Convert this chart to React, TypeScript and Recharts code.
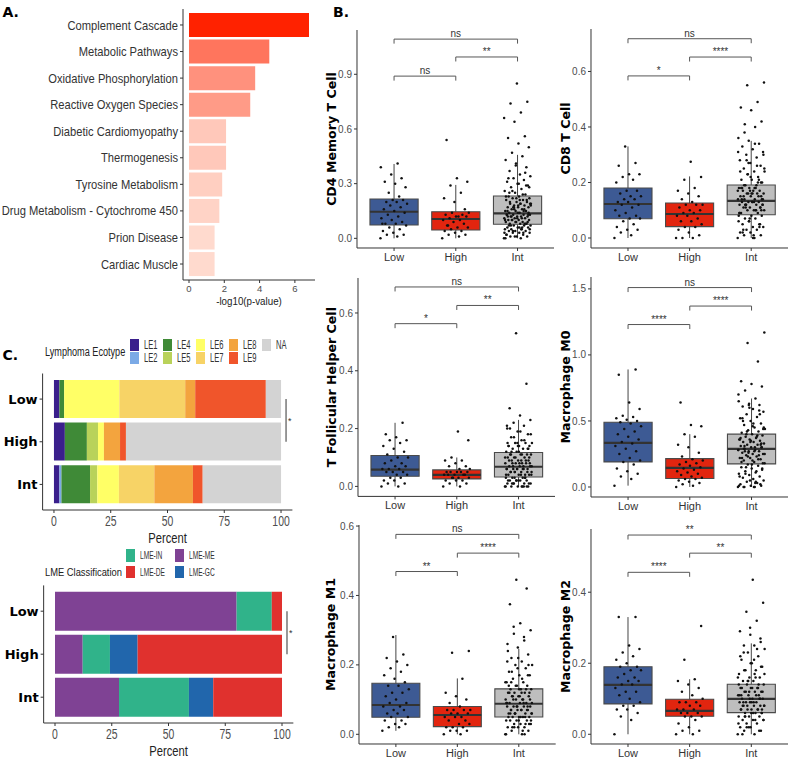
import React from "react";
import {
  BarChart,
  Bar,
  Cell,
  ComposedChart,
  Scatter,
  XAxis,
  YAxis,
  ReferenceArea,
  ReferenceLine,
} from "recharts";

const SANS = "'Liberation Sans', Arial, sans-serif";
const HEAVY = "'DejaVu Sans', Verdana, sans-serif";

// ---------- Panel A: pathway enrichment ----------
const pathways = [
  "Complement Cascade",
  "Metabolic Pathways",
  "Oxidative Phosphorylation",
  "Reactive Oxygen Species",
  "Diabetic Cardiomyopathy",
  "Thermogenesis",
  "Tyrosine Metabolism",
  "Drug Metabolism - Cytochrome 450",
  "Prion Disease",
  "Cardiac Muscle",
];
const pathwayScores = [6.8, 4.55, 3.75, 3.47, 2.1, 2.1, 1.88, 1.72, 1.45, 1.45];
const pathwayTicks = [0, 2, 4, 6];

// ---------- Panel C: composition ----------
const groups = ["Low", "High", "Int"];

const ecotypes = ["LE1", "LE2", "LE4", "LE5", "LE6", "LE7", "LE8", "LE9", "NA"];
const ecotypeLow = [2.4, 0, 2.1, 0, 24.3, 29, 4.4, 31.1, 6.7];
const ecotypeHigh = [4.8, 0, 9.7, 4.9, 2.6, 0, 7.1, 2.6, 68.3];
const ecotypeInt = [2.4, 0.9, 12.6, 3.2, 9.5, 15.6, 17, 4.3, 34.5];

const lmeClasses = ["LME-ME", "LME-IN", "LME-GC", "LME-DE"];
const lmeLow = [80, 15.5, 0, 4.5];
const lmeHigh = [12.2, 12, 12.2, 63.6];
const lmeInt = [28.2, 30.8, 10.7, 30.3];
const lmeLegendOrder = ["LME-IN", "LME-DE", "LME-ME", "LME-GC"];

const percentTicks = [0, 25, 50, 75, 100];

// ---------- Panel B: cell fractions ----------
type Stat = { lo: number; q1: number; med: number; q3: number; hi: number };
type Bracket = { from: number; to: number; y: number; label: string };

const cd4Stats: Stat[] = [
  { lo: 0, q1: 0.073, med: 0.146, q3: 0.216, hi: 0.408 },
  { lo: 0, q1: 0.046, med: 0.106, q3: 0.146, hi: 0.293 },
  { lo: 0, q1: 0.077, med: 0.137, q3: 0.232, hi: 0.458 },
];
const cd4Low = [0.0, 0.01, 0.02, 0.02, 0.03, 0.04, 0.05, 0.06, 0.07, 0.08, 0.08, 0.09, 0.1, 0.11, 0.12, 0.13, 0.14, 0.15, 0.16, 0.17, 0.18, 0.19, 0.2, 0.2, 0.21, 0.21, 0.08, 0.23, 0.25, 0.28, 0.3, 0.31, 0.33, 0.35, 0.39, 0.41];
const cd4High = [0.0, 0.01, 0.02, 0.02, 0.03, 0.04, 0.04, 0.05, 0.06, 0.06, 0.07, 0.08, 0.09, 0.1, 0.1, 0.11, 0.12, 0.12, 0.13, 0.13, 0.14, 0.14, 0.12, 0.07, 0.16, 0.2, 0.22, 0.25, 0.29, 0.31, 0.33, 0.54];
const cd4Int = [0.0, 0.0, 0.01, 0.01, 0.01, 0.02, 0.02, 0.03, 0.03, 0.03, 0.04, 0.04, 0.04, 0.05, 0.05, 0.05, 0.06, 0.06, 0.06, 0.07, 0.07, 0.07, 0.08, 0.08, 0.08, 0.09, 0.09, 0.09, 0.1, 0.1, 0.1, 0.1, 0.11, 0.11, 0.11, 0.12, 0.12, 0.12, 0.12, 0.13, 0.13, 0.13, 0.13, 0.14, 0.14, 0.15, 0.15, 0.15, 0.16, 0.16, 0.17, 0.17, 0.17, 0.18, 0.18, 0.19, 0.19, 0.19, 0.2, 0.2, 0.21, 0.21, 0.22, 0.22, 0.23, 0.23, 0.24, 0.25, 0.26, 0.27, 0.28, 0.29, 0.3, 0.31, 0.32, 0.33, 0.34, 0.35, 0.37, 0.39, 0.41, 0.43, 0.45, 0.47, 0.5, 0.52, 0.55, 0.56, 0.64, 0.66, 0.69, 0.74, 0.75, 0.85,
  0.02, 0.03, 0.04, 0.05, 0.06, 0.07, 0.08, 0.09, 0.1, 0.11, 0.12, 0.13, 0.14, 0.15, 0.16, 0.17, 0.18, 0.19, 0.2, 0.21, 0.22, 0.23, 0.24, 0.26, 0.28, 0.3, 0.33, 0.36, 0.01, 0.03, 0.05, 0.07, 0.09, 0.11, 0.13, 0.15, 0.17, 0.19, 0.21, 0.25, 0.29, 0.4, 0.0, 0.06, 0.1, 0.14, 0.18, 0.12, 0.08, 0.16];
const cd4Brackets: Bracket[] = [
  { from: 1, to: 3, y: 1.093, label: "ns" },
  { from: 2, to: 3, y: 0.995, label: "**" },
  { from: 1, to: 2, y: 0.89, label: "ns" },
];

const cd8Stats: Stat[] = [
  { lo: 0, q1: 0.0695, med: 0.1225, q3: 0.18, hi: 0.33 },
  { lo: 0, q1: 0.041, med: 0.0865, q3: 0.126, hi: 0.222 },
  { lo: 0, q1: 0.084, med: 0.134, q3: 0.191, hi: 0.35 },
];
const cd8Low = [0.0, 0.01, 0.02, 0.03, 0.03, 0.04, 0.05, 0.06, 0.07, 0.07, 0.08, 0.08, 0.09, 0.1, 0.11, 0.12, 0.12, 0.13, 0.13, 0.14, 0.14, 0.15, 0.15, 0.16, 0.17, 0.17, 0.2, 0.21, 0.22, 0.23, 0.23, 0.26, 0.27, 0.33];
const cd8High = [0.0, 0.0, 0.0, 0.01, 0.02, 0.03, 0.04, 0.04, 0.05, 0.06, 0.06, 0.07, 0.08, 0.08, 0.09, 0.09, 0.1, 0.1, 0.11, 0.12, 0.12, 0.12, 0.13, 0.14, 0.15, 0.16, 0.17, 0.18, 0.21, 0.22, 0.275];
const cd8Int = [0.0, 0.0, 0.01, 0.01, 0.02, 0.02, 0.03, 0.03, 0.04, 0.04, 0.05, 0.05, 0.06, 0.06, 0.07, 0.07, 0.08, 0.08, 0.09, 0.09, 0.1, 0.1, 0.1, 0.11, 0.11, 0.11, 0.12, 0.12, 0.12, 0.12, 0.13, 0.13, 0.13, 0.13, 0.14, 0.14, 0.14, 0.15, 0.15, 0.15, 0.16, 0.16, 0.16, 0.17, 0.17, 0.17, 0.18, 0.18, 0.18, 0.19, 0.2, 0.21, 0.21, 0.22, 0.23, 0.24, 0.24, 0.25, 0.26, 0.27, 0.28, 0.29, 0.3, 0.31, 0.32, 0.33, 0.34, 0.35, 0.36, 0.4, 0.41, 0.42, 0.46, 0.47, 0.49, 0.55, 0.56,
  0.01, 0.03, 0.05, 0.07, 0.09, 0.1, 0.11, 0.12, 0.13, 0.14, 0.15, 0.16, 0.17, 0.18, 0.19, 0.2, 0.22, 0.24, 0.26, 0.28, 0.3, 0.0, 0.02, 0.04, 0.06, 0.08, 0.1, 0.12, 0.14, 0.16, 0.18, 0.2, 0.23, 0.25, 0.13, 0.15, 0.11, 0.17, 0.09, 0.19, 0.12, 0.14, 0.16, 0.18, 0.21, 0.27, 0.31, 0.34, 0.38, 0.1];
const cd8Brackets: Bracket[] = [
  { from: 1, to: 3, y: 0.718, label: "ns" },
  { from: 2, to: 3, y: 0.652, label: "****" },
  { from: 1, to: 2, y: 0.584, label: "*" },
];

const tfhStats: Stat[] = [
  { lo: 0, q1: 0.035, med: 0.058, q3: 0.107, hi: 0.22 },
  { lo: 0, q1: 0.026, med: 0.04, q3: 0.057, hi: 0.1 },
  { lo: 0, q1: 0.0325, med: 0.068, q3: 0.117, hi: 0.23 },
];
const tfhLow = [0.0, 0.0, 0.01, 0.01, 0.02, 0.02, 0.03, 0.03, 0.04, 0.04, 0.05, 0.05, 0.05, 0.06, 0.06, 0.06, 0.07, 0.07, 0.08, 0.08, 0.09, 0.1, 0.1, 0.11, 0.12, 0.13, 0.14, 0.15, 0.16, 0.16, 0.17, 0.18, 0.22];
const tfhHigh = [0.0, 0.0, 0.01, 0.01, 0.02, 0.02, 0.02, 0.03, 0.03, 0.03, 0.04, 0.04, 0.04, 0.04, 0.05, 0.05, 0.05, 0.05, 0.05, 0.04, 0.03, 0.06, 0.06, 0.07, 0.07, 0.08, 0.09, 0.09, 0.1, 0.16, 0.19];
const tfhInt = [0.0, 0.0, 0.0, 0.0, 0.0, 0.01, 0.01, 0.01, 0.01, 0.02, 0.02, 0.02, 0.02, 0.03, 0.03, 0.03, 0.04, 0.04, 0.04, 0.04, 0.05, 0.05, 0.05, 0.05, 0.06, 0.06, 0.06, 0.06, 0.06, 0.07, 0.07, 0.07, 0.08, 0.08, 0.08, 0.08, 0.09, 0.09, 0.09, 0.1, 0.1, 0.1, 0.11, 0.11, 0.11, 0.11, 0.12, 0.12, 0.13, 0.13, 0.14, 0.14, 0.14, 0.15, 0.15, 0.15, 0.16, 0.17, 0.18, 0.19, 0.2, 0.21, 0.22, 0.23, 0.245, 0.27, 0.355, 0.53,
  0.0, 0.0, 0.01, 0.01, 0.02, 0.02, 0.03, 0.03, 0.04, 0.04, 0.05, 0.05, 0.06, 0.06, 0.07, 0.07, 0.08, 0.08, 0.09, 0.09, 0.1, 0.1, 0.11, 0.12, 0.13, 0.14, 0.15, 0.16, 0.17, 0.18, 0.19, 0.2, 0.0, 0.02, 0.04, 0.06, 0.08, 0.1, 0.12, 0.14, 0.03, 0.05, 0.07, 0.09, 0.11, 0.13, 0.15, 0.21, 0.0, 0.01];
const tfhBrackets: Bracket[] = [
  { from: 1, to: 3, y: 0.69, label: "ns" },
  { from: 2, to: 3, y: 0.626, label: "**" },
  { from: 1, to: 2, y: 0.563, label: "*" },
];

const m0Stats: Stat[] = [
  { lo: 0.01, q1: 0.19, med: 0.334, q3: 0.49, hi: 0.89 },
  { lo: 0, q1: 0.064, med: 0.144, q3: 0.215, hi: 0.4 },
  { lo: 0, q1: 0.175, med: 0.288, q3: 0.4, hi: 0.67 },
];
const m0Low = [0.01, 0.06, 0.08, 0.1, 0.12, 0.14, 0.17, 0.19, 0.2, 0.22, 0.25, 0.27, 0.29, 0.31, 0.33, 0.34, 0.36, 0.38, 0.4, 0.42, 0.44, 0.46, 0.48, 0.49, 0.5, 0.51, 0.52, 0.53, 0.54, 0.59, 0.64, 0.85, 0.89];
const m0High = [0.0, 0.01, 0.02, 0.03, 0.04, 0.05, 0.06, 0.06, 0.07, 0.08, 0.09, 0.1, 0.11, 0.12, 0.13, 0.14, 0.15, 0.16, 0.17, 0.18, 0.19, 0.2, 0.21, 0.23, 0.26, 0.3, 0.32, 0.38, 0.4, 0.46, 0.47, 0.64];
const m0Int = [0.0, 0.0, 0.0, 0.01, 0.01, 0.02, 0.03, 0.04, 0.05, 0.06, 0.07, 0.08, 0.09, 0.1, 0.11, 0.12, 0.13, 0.14, 0.15, 0.16, 0.17, 0.18, 0.19, 0.2, 0.21, 0.22, 0.22, 0.23, 0.24, 0.25, 0.25, 0.26, 0.27, 0.27, 0.28, 0.28, 0.29, 0.3, 0.3, 0.31, 0.32, 0.32, 0.33, 0.34, 0.34, 0.35, 0.36, 0.36, 0.37, 0.38, 0.39, 0.4, 0.41, 0.42, 0.43, 0.44, 0.45, 0.47, 0.48, 0.5, 0.52, 0.53, 0.55, 0.57, 0.59, 0.61, 0.62, 0.63, 0.65, 0.67, 0.73, 0.76, 0.78, 0.8, 0.95, 1.09, 1.17,
  0.0, 0.0, 0.02, 0.05, 0.08, 0.12, 0.15, 0.18, 0.2, 0.22, 0.24, 0.26, 0.28, 0.3, 0.31, 0.33, 0.35, 0.37, 0.39, 0.42, 0.45, 0.48, 0.5, 0.55, 0.6, 0.01, 0.04, 0.1, 0.14, 0.17, 0.19, 0.21, 0.23, 0.25, 0.27, 0.29, 0.32, 0.34, 0.36, 0.38, 0.4, 0.44, 0.46, 0.52, 0.58, 0.62, 0.7, 0.03, 0.27, 0.3];
const m0Brackets: Bracket[] = [
  { from: 1, to: 3, y: 1.51, label: "ns" },
  { from: 2, to: 3, y: 1.37, label: "****" },
  { from: 1, to: 2, y: 1.23, label: "****" },
];

const m1Stats: Stat[] = [
  { lo: 0.01, q1: 0.049, med: 0.0845, q3: 0.147, hi: 0.286 },
  { lo: 0, q1: 0.022, med: 0.0556, q3: 0.08, hi: 0.161 },
  { lo: 0, q1: 0.05, med: 0.088, q3: 0.131, hi: 0.246 },
];
const m1Low = [0.01, 0.02, 0.02, 0.03, 0.03, 0.04, 0.04, 0.05, 0.05, 0.06, 0.06, 0.07, 0.07, 0.08, 0.08, 0.09, 0.09, 0.1, 0.11, 0.12, 0.12, 0.13, 0.14, 0.14, 0.15, 0.16, 0.17, 0.18, 0.19, 0.2, 0.21, 0.22, 0.23, 0.28];
const m1High = [0.0, 0.0, 0.01, 0.01, 0.01, 0.02, 0.02, 0.02, 0.03, 0.03, 0.04, 0.04, 0.05, 0.05, 0.05, 0.06, 0.06, 0.06, 0.07, 0.07, 0.07, 0.07, 0.08, 0.09, 0.1, 0.11, 0.12, 0.16, 0.235, 0.24];
const m1Int = [0.0, 0.0, 0.01, 0.01, 0.02, 0.02, 0.02, 0.03, 0.03, 0.03, 0.04, 0.04, 0.04, 0.04, 0.05, 0.05, 0.05, 0.05, 0.06, 0.06, 0.06, 0.06, 0.07, 0.07, 0.07, 0.07, 0.08, 0.08, 0.08, 0.08, 0.09, 0.09, 0.09, 0.1, 0.1, 0.1, 0.11, 0.11, 0.11, 0.12, 0.12, 0.12, 0.13, 0.13, 0.13, 0.14, 0.14, 0.15, 0.15, 0.16, 0.17, 0.17, 0.18, 0.19, 0.2, 0.2, 0.21, 0.22, 0.23, 0.25, 0.26, 0.27, 0.29, 0.3, 0.32, 0.375, 0.42, 0.445,
  0.0, 0.01, 0.02, 0.03, 0.04, 0.05, 0.05, 0.06, 0.06, 0.07, 0.07, 0.08, 0.08, 0.09, 0.09, 0.1, 0.1, 0.11, 0.12, 0.13, 0.14, 0.15, 0.16, 0.18, 0.2, 0.22, 0.24, 0.0, 0.02, 0.04, 0.05, 0.06, 0.07, 0.08, 0.09, 0.1, 0.11, 0.12, 0.13, 0.14, 0.03, 0.06, 0.09, 0.12, 0.15, 0.17, 0.19, 0.21, 0.28, 0.31];
const m1Brackets: Bracket[] = [
  { from: 1, to: 3, y: 0.576, label: "ns" },
  { from: 2, to: 3, y: 0.522, label: "****" },
  { from: 1, to: 2, y: 0.469, label: "**" },
];

const m2Stats: Stat[] = [
  { lo: 0, q1: 0.0855, med: 0.139, q3: 0.19, hi: 0.33 },
  { lo: 0, q1: 0.0507, med: 0.0656, q3: 0.0986, hi: 0.155 },
  { lo: 0, q1: 0.061, med: 0.0995, q3: 0.141, hi: 0.256 },
];
const m2Low = [0.0, 0.04, 0.05, 0.06, 0.07, 0.07, 0.08, 0.08, 0.09, 0.1, 0.11, 0.12, 0.12, 0.13, 0.14, 0.14, 0.15, 0.15, 0.16, 0.16, 0.17, 0.18, 0.18, 0.19, 0.19, 0.2, 0.21, 0.22, 0.23, 0.24, 0.25, 0.33, 0.33];
const m2High = [0.0, 0.0, 0.01, 0.01, 0.02, 0.03, 0.04, 0.05, 0.05, 0.05, 0.06, 0.06, 0.06, 0.07, 0.07, 0.07, 0.08, 0.08, 0.09, 0.09, 0.09, 0.1, 0.11, 0.12, 0.13, 0.14, 0.15, 0.155, 0.21, 0.305];
const m2Int = [0.0, 0.0, 0.01, 0.01, 0.02, 0.02, 0.03, 0.03, 0.04, 0.04, 0.04, 0.05, 0.05, 0.05, 0.06, 0.06, 0.06, 0.07, 0.07, 0.07, 0.07, 0.08, 0.08, 0.08, 0.08, 0.09, 0.09, 0.09, 0.09, 0.1, 0.1, 0.1, 0.11, 0.11, 0.11, 0.12, 0.12, 0.12, 0.13, 0.13, 0.13, 0.14, 0.14, 0.15, 0.15, 0.16, 0.16, 0.17, 0.18, 0.18, 0.19, 0.2, 0.21, 0.22, 0.23, 0.24, 0.25, 0.25, 0.26, 0.28, 0.29, 0.32, 0.345, 0.37, 0.435,
  0.0, 0.01, 0.02, 0.03, 0.04, 0.05, 0.06, 0.06, 0.07, 0.07, 0.08, 0.08, 0.09, 0.09, 0.1, 0.1, 0.11, 0.11, 0.12, 0.12, 0.13, 0.13, 0.14, 0.15, 0.16, 0.17, 0.18, 0.19, 0.2, 0.22, 0.24, 0.02, 0.04, 0.06, 0.08, 0.1, 0.12, 0.14, 0.16, 0.05, 0.07, 0.09, 0.11, 0.13, 0.15, 0.17, 0.21, 0.23, 0.27, 0.3];
const m2Brackets: Bracket[] = [
  { from: 1, to: 3, y: 0.561, label: "**" },
  { from: 2, to: 3, y: 0.51, label: "**" },
  { from: 1, to: 2, y: 0.456, label: "****" },
];

// ---------- styles ----------
const ecotypeColors: Record<string, string> = {
  LE1: "#3a1f8c",
  LE2: "#7baae6",
  LE4: "#3f8a37",
  LE5: "#b9d25a",
  LE6: "#ffff66",
  LE7: "#f7d366",
  LE8: "#f3a43e",
  LE9: "#f0552b",
  NA: "#d3d3d3",
};
const lmeColors: Record<string, string> = {
  "LME-ME": "#7f4294",
  "LME-IN": "#30b38a",
  "LME-GC": "#2166ac",
  "LME-DE": "#e0312e",
};
const boxFill = ["#3d5a94", "#e2250f", "#bebebe"];

// light salmon -> red, following the score
function scoreColor(v: number) {
  const min = Math.min(...pathwayScores);
  const max = Math.max(...pathwayScores);
  const t = Math.pow((v - min) / (max - min), 1.1);
  const g = Math.round(218 - t * (218 - 34));
  const b = Math.round(206 - t * 206);
  return `rgb(255,${g},${b})`;
}

// fixed spread for the jittered dots
const jitter = (i: number) => (((i * 0.6180339887) % 1) - 0.5) * 0.44;

// the source figure is squeezed sideways, so its text is drawn narrower
function SqueezedTick(p: any) {
  const { x, y, payload, textAnchor, squeeze, size, color, weight, dy } = p;
  return (
    <g transform={`translate(${x},${y}) scale(${squeeze},1)`}>
      <text x={0} y={0} dy={dy} textAnchor={textAnchor} fontSize={size} fill={color} fontFamily={SANS} fontWeight={weight}>
        {payload.value}
      </text>
    </g>
  );
}

function SqueezedLabel(p: any) {
  const { viewBox, text, lift, squeeze, size } = p;
  if (!viewBox) return null;
  const cx = viewBox.x + viewBox.width / 2;
  const base = viewBox.y + viewBox.height - lift;
  return (
    <g transform={`translate(${cx},${base}) scale(${squeeze},1)`}>
      <text x={0} y={0} textAnchor="middle" fontSize={size} fill="#222" fontFamily={SANS}>
        {text}
      </text>
    </g>
  );
}

type Frame = {
  ax: number;
  rx: number;
  ty: number;
  by: number;
  labelX: number;
  domain: [number, number];
  ticks: number[];
};

function BoxPanel(props: {
  title: string;
  stats: Stat[];
  points: number[][];
  brackets: Bracket[];
  frame: Frame;
}) {
  const { title, stats, points, brackets, frame } = props;
  const { ax, rx, ty, by, labelX, domain, ticks } = frame;
  const yw = 40;
  const xh = 28;
  const mt = 12;
  const left = ax - yw;
  const width = rx - left;
  const height = by - ty + xh + mt;
  const tip = (4.5 * (domain[1] - domain[0])) / (by - ty);
  const half = 0.39;
  const pts = points.flatMap((vals, g) => vals.map((v, i) => ({ x: g + 1 + jitter(i), y: v })));

  const lines: React.ReactElement[] = [];
  stats.forEach((s, g) => {
    lines.push(
      <ReferenceLine key={`wl${g}`} segment={[{ x: g + 1, y: s.lo }, { x: g + 1, y: s.q1 }]} stroke="#444" strokeWidth={1} />,
      <ReferenceLine key={`wh${g}`} segment={[{ x: g + 1, y: s.q3 }, { x: g + 1, y: s.hi }]} stroke="#444" strokeWidth={1} />
    );
  });
  const boxes = stats.map((s, g) => (
    <ReferenceArea
      key={`b${g}`}
      x1={g + 1 - half}
      x2={g + 1 + half}
      y1={s.q1}
      y2={s.q3}
      fill={boxFill[g]}
      fillOpacity={1}
      stroke="#4a4a4a"
      strokeWidth={1.1}
    />
  ));
  const medians = stats.map((s, g) => (
    <ReferenceLine
      key={`m${g}`}
      segment={[{ x: g + 1 - half, y: s.med }, { x: g + 1 + half, y: s.med }]}
      stroke="#333"
      strokeWidth={2.2}
    />
  ));
  const bracketLines: React.ReactElement[] = [];
  brackets.forEach((b, k) => {
    bracketLines.push(
      <ReferenceLine
        key={`bh${k}`}
        segment={[{ x: b.from, y: b.y }, { x: b.to, y: b.y }]}
        stroke="#555"
        strokeWidth={1}
        label={{ value: b.label, position: "top", offset: 2, fill: "#333", fontSize: 10, fontFamily: SANS }}
      />,
      <ReferenceLine key={`bl${k}`} segment={[{ x: b.from, y: b.y }, { x: b.from, y: b.y - tip }]} stroke="#555" strokeWidth={1} />,
      <ReferenceLine key={`br${k}`} segment={[{ x: b.to, y: b.y }, { x: b.to, y: b.y - tip }]} stroke="#555" strokeWidth={1} />
    );
  });

  return (
    <div style={{ position: "absolute", left, top: ty - mt }}>
      <ComposedChart width={width} height={height} margin={{ top: mt, right: 0, bottom: 0, left: 0 }}>
        <XAxis
          type="number"
          dataKey="x"
          domain={[0.4, 3.6]}
          ticks={[1, 2, 3]}
          interval={0}
          allowDataOverflow
          tickFormatter={(v: number) => groups[v - 1]}
          height={xh}
          stroke="#333"
          tickSize={3}
          tick={{ fill: "#333", fontSize: 11, fontFamily: SANS }}
        />
        <YAxis
          type="number"
          dataKey="y"
          domain={domain}
          ticks={ticks}
          interval={0}
          allowDataOverflow
          width={yw}
          stroke="#333"
          tickSize={3}
          tickFormatter={(v: number) => v.toFixed(1)}
          tick={{ fill: "#4d4d4d", fontSize: 10, fontFamily: SANS }}
          label={{
            value: title,
            angle: -90,
            position: "insideLeft",
            offset: labelX - left,
            style: { textAnchor: "middle", fontWeight: 700, fontSize: 12.6, fontFamily: HEAVY, fill: "#000" },
          }}
        />
        {lines}
        {boxes}
        {medians}
        <Scatter
          data={pts}
          isAnimationActive={false}
          shape={(p: any) => <circle cx={p.cx} cy={p.cy} r={1.25} fill="#111" />}
        />
        {bracketLines}
      </ComposedChart>
    </div>
  );
}

const frames: Record<string, Frame> = {
  cd4: { ax: 356.7, rx: 554.3, ty: 30, by: 248, labelX: 331, domain: [-0.053, 1.143], ticks: [0, 0.3, 0.6, 0.9] },
  cd8: { ax: 590.5, rx: 787.7, ty: 29.3, by: 248.3, labelX: 565, domain: [-0.036, 0.753], ticks: [0, 0.2, 0.4, 0.6] },
  tfh: { ax: 357.8, rx: 555.4, ty: 278.3, by: 496.7, labelX: 331, domain: [-0.0346, 0.721], ticks: [0, 0.2, 0.4, 0.6] },
  m0: { ax: 590.7, rx: 788.3, ty: 276.7, by: 496.7, labelX: 565, domain: [-0.0758, 1.59], ticks: [0, 0.5, 1, 1.5] },
  m1: { ax: 359, rx: 555.7, ty: 525, by: 744, labelX: 331, domain: [-0.0279, 0.603], ticks: [0, 0.2, 0.4, 0.6] },
  m2: { ax: 590.7, rx: 788, ty: 529, by: 744, labelX: 565, domain: [-0.0274, 0.578], ticks: [0, 0.2, 0.4] },
};

const panelLabel = (text: string, left: number, top: number) => (
  <div
    style={{
      position: "absolute",
      left,
      top,
      fontFamily: HEAVY,
      fontWeight: 700,
      fontSize: 14,
      lineHeight: "14px",
      color: "#000",
    }}
  >
    {text}
  </div>
);

function Legend2(props: {
  title: string;
  titleLeft: number;
  titleTop: number;
  titleSize: number;
  titleSqueeze: number;
  items: string[];
  colors: Record<string, string>;
  x0: number;
  y0: number;
  colStep: number;
  rowStep: number;
  sw: number;
  sh: number;
  textSize: number;
  textSqueeze: number;
}) {
  const p = props;
  return (
    <>
      <div
        style={{
          position: "absolute",
          left: p.titleLeft,
          top: p.titleTop,
          fontFamily: SANS,
          fontSize: p.titleSize,
          lineHeight: "14px",
          color: "#222",
          whiteSpace: "nowrap",
          transform: `scaleX(${p.titleSqueeze})`,
          transformOrigin: "0 50%",
        }}
      >
        {p.title}
      </div>
      {p.items.map((it, k) => {
        const col = Math.floor(k / 2);
        const row = k % 2;
        const x = p.x0 + col * p.colStep;
        const y = p.y0 + row * p.rowStep;
        return (
          <React.Fragment key={it}>
            <div style={{ position: "absolute", left: x, top: y, width: p.sw, height: p.sh, background: p.colors[it] }} />
            <div
              style={{
                position: "absolute",
                left: x + p.sw + 5,
                top: y + p.sh / 2 - 7,
                fontFamily: SANS,
                fontSize: p.textSize,
                lineHeight: "14px",
                color: "#333",
                whiteSpace: "nowrap",
                transform: `scaleX(${p.textSqueeze})`,
                transformOrigin: "0 50%",
              }}
            >
              {it}
            </div>
          </React.Fragment>
        );
      })}
    </>
  );
}

export default function App() {
  const pathwayRows = pathways.map((name, i) => ({ name, score: pathwayScores[i] }));
  const ecoValues = [ecotypeLow, ecotypeHigh, ecotypeInt];
  const ecoRows = groups.map((g, i) => {
    const row: Record<string, string | number> = { group: g };
    ecotypes.forEach((e, j) => (row[e] = ecoValues[i][j]));
    return row;
  });
  const lmeValues = [lmeLow, lmeHigh, lmeInt];
  const lmeRows = groups.map((g, i) => {
    const row: Record<string, string | number> = { group: g };
    lmeClasses.forEach((c, j) => (row[c] = lmeValues[i][j]));
    return row;
  });

  const pctAxis = {
    type: "number" as const,
    domain: [-5, 105],
    ticks: percentTicks,
    interval: 0,
    allowDataOverflow: true,
    height: 36,
    stroke: "#333",
    tickSize: 3,
    tickMargin: 3,
    tick: (p: any) => <SqueezedTick {...p} squeeze={0.72} size={14.5} color="#4d4d4d" dy="0.71em" />,
    label: <SqueezedLabel text="Percent" lift={3} squeeze={0.8} size={14} />,
  };
  const groupAxisTick = { fill: "#000", fontSize: 13, fontWeight: 700, fontFamily: HEAVY };

  return (
    <div
      style={{
        position: "absolute",
        left: 0,
        top: 0,
        width: 790,
        height: 762,
        background: "#fff",
        overflow: "hidden",
      }}
    >
      {panelLabel("A.", 2.5, 5)}
      {panelLabel("B.", 333, 5)}
      {panelLabel("C.", 2.5, 348.3)}

      {/* A */}
      <div style={{ position: "absolute", left: 0, top: 0 }}>
        <BarChart
          layout="vertical"
          width={320}
          height={314}
          data={pathwayRows}
          margin={{ top: 9, right: 5, bottom: 0, left: 0 }}
          barCategoryGap="5%"
        >
          <XAxis
            type="number"
            domain={[-0.34, 7.14]}
            ticks={pathwayTicks}
            interval={0}
            allowDataOverflow
            height={34}
            stroke="#333"
            tickSize={3}
            tick={{ fill: "#4d4d4d", fontSize: 9.5, fontFamily: SANS }}
            label={<SqueezedLabel text="-log10(p-value)" lift={9} squeeze={0.85} size={11.5} />}
          />
          <YAxis
            type="category"
            dataKey="name"
            width={183}
            interval={0}
            stroke="#333"
            tickSize={3}
            padding={{ top: 2.7, bottom: 2.7 }}
            tick={(p: any) => <SqueezedTick {...p} squeeze={0.86} size={13} color="#333" dy="0.35em" />}
          />
          <Bar dataKey="score" isAnimationActive={false}>
            {pathwayRows.map((r) => (
              <Cell key={r.name} fill={scoreColor(r.score)} />
            ))}
          </Bar>
        </BarChart>
      </div>

      {/* C top */}
      <Legend2
        title="Lymphoma Ecotype"
        titleLeft={44.5}
        titleTop={345}
        titleSize={12}
        titleSqueeze={0.76}
        items={ecotypes}
        colors={ecotypeColors}
        x0={130}
        y0={339}
        colStep={33}
        rowStep={13}
        sw={8.5}
        sh={12}
        textSize={12}
        textSqueeze={0.63}
      />
      <div style={{ position: "absolute", left: 0, top: 360 }}>
        <BarChart
          layout="vertical"
          width={300}
          height={186}
          data={ecoRows}
          margin={{ top: 13.5, right: 7.6, bottom: 0, left: 0 }}
          barCategoryGap="5%"
        >
          <XAxis {...pctAxis} />
          <YAxis
            type="category"
            dataKey="group"
            width={42.6}
            interval={0}
            stroke="#333"
            tickSize={3}
            padding={{ top: 4.25, bottom: 4.25 }}
            tick={groupAxisTick}
          />
          {ecotypes.map((e) => (
            <Bar key={e} dataKey={e} stackId="eco" fill={ecotypeColors[e]} isAnimationActive={false} />
          ))}
          <ReferenceLine
            segment={[{ x: 102.2, y: "Low" }, { x: 102.2, y: "High" }]}
            stroke="#555"
            strokeWidth={1.2}
            label={{ value: "*", position: "right", offset: 2, fill: "#333", fontSize: 9, fontFamily: SANS }}
          />
        </BarChart>
      </div>

      {/* C bottom */}
      <Legend2
        title="LME Classification"
        titleLeft={45}
        titleTop={565}
        titleSize={11}
        titleSqueeze={0.85}
        items={lmeLegendOrder}
        colors={lmeColors}
        x0={126}
        y0={549}
        colStep={48.7}
        rowStep={16.7}
        sw={9}
        sh={12.5}
        textSize={11}
        textSqueeze={0.6}
      />
      <div style={{ position: "absolute", left: 0, top: 572 }}>
        <BarChart
          layout="vertical"
          width={300}
          height={187}
          data={lmeRows}
          margin={{ top: 13.4, right: 6.65, bottom: 0, left: 0 }}
          barCategoryGap="5%"
        >
          <XAxis {...pctAxis} />
          <YAxis
            type="category"
            dataKey="group"
            width={43.65}
            interval={0}
            stroke="#333"
            tickSize={3}
            padding={{ top: 4.3, bottom: 4.3 }}
            tick={groupAxisTick}
          />
          {lmeClasses.map((c) => (
            <Bar key={c} dataKey={c} stackId="lme" fill={lmeColors[c]} isAnimationActive={false} />
          ))}
          <ReferenceLine
            segment={[{ x: 102.2, y: "Low" }, { x: 102.2, y: "High" }]}
            stroke="#555"
            strokeWidth={1.2}
            label={{ value: "*", position: "right", offset: 2, fill: "#333", fontSize: 9, fontFamily: SANS }}
          />
        </BarChart>
      </div>

      {/* B */}
      <BoxPanel title="CD4 Memory T Cell" stats={cd4Stats} points={[cd4Low, cd4High, cd4Int]} brackets={cd4Brackets} frame={frames.cd4} />
      <BoxPanel title="CD8 T Cell" stats={cd8Stats} points={[cd8Low, cd8High, cd8Int]} brackets={cd8Brackets} frame={frames.cd8} />
      <BoxPanel title="T Follicular Helper Cell" stats={tfhStats} points={[tfhLow, tfhHigh, tfhInt]} brackets={tfhBrackets} frame={frames.tfh} />
      <BoxPanel title="Macrophage M0" stats={m0Stats} points={[m0Low, m0High, m0Int]} brackets={m0Brackets} frame={frames.m0} />
      <BoxPanel title="Macrophage M1" stats={m1Stats} points={[m1Low, m1High, m1Int]} brackets={m1Brackets} frame={frames.m1} />
      <BoxPanel title="Macrophage M2" stats={m2Stats} points={[m2Low, m2High, m2Int]} brackets={m2Brackets} frame={frames.m2} />
    </div>
  );
}
